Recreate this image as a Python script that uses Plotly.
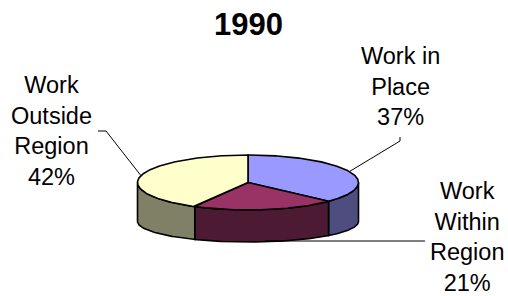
import numpy as np
import plotly.graph_objects as go

# ---- data ----
title_text = "1990"
labels = ["Work in<br>Place", "Work<br>Within<br>Region", "Work<br>Outside<br>Region"]
values = [37, 21, 42]
top_colors = ["#9999FF", "#993366", "#FFFFCC"]
side_colors = ["#4D4D80", "#4D1A33", "#808066"]

# ---- geometry (pixel space) ----
W, H = 508, 296
CX, CY_TOP, RX, RY_TOP = 248, 182.5, 110.5, 27.5
CY_BOT, RY_BOT = 221.5, 20.5
START_DEG = 90
# label centres and leader elbows
label_pos = [(400, 86), (467, 237), (51, 131)]
elbows = [[(400, 141), (400, 137)], [(425, 241)], [(106, 131), (98, 131)]]
anchor_on_bottom = [False, True, False]

fr = np.array(values, dtype=float) / sum(values)
cum = np.concatenate([[0], np.cumsum(fr)])
a_start = START_DEG - 360 * cum[:-1]
a_end = START_DEG - 360 * cum[1:]


def top_pt(t):
    r = np.radians(t)
    return CX + RX * np.cos(r), CY_TOP - RY_TOP * np.sin(r)


def bot_pt(t):
    r = np.radians(t)
    return CX + RX * np.cos(r), CY_BOT - RY_BOT * np.sin(r)


fig = go.Figure()
LINE = dict(color="black", width=1.6)

# walls (front half only)
for i in range(len(values)):
    for k in (0, -360):
        lo = max(a_end[i], -180 + k)
        hi = min(a_start[i], 0 + k)
        if lo < hi:
            ts = np.linspace(lo, hi, 80)
            xt, yt = top_pt(ts)
            xb, yb = bot_pt(ts[::-1])
            xs = np.concatenate([xt, xb, xt[:1]])
            ys = np.concatenate([yt, yb, yt[:1]])
            fig.add_trace(go.Scatter(x=xs, y=ys, mode="lines", fill="toself",
                                     fillcolor=side_colors[i], line=LINE,
                                     hoverinfo="skip", showlegend=False))

# top faces
for i in range(len(values)):
    ts = np.linspace(a_start[i], a_end[i], 200)
    xa, ya = top_pt(ts)
    xs = np.concatenate([[CX], xa, [CX]])
    ys = np.concatenate([[CY_TOP], ya, [CY_TOP]])
    fig.add_trace(go.Scatter(x=xs, y=ys, mode="lines", fill="toself",
                             fillcolor=top_colors[i], line=LINE,
                             hoverinfo="skip", showlegend=False))

# leader lines + labels
annotations = []
for i in range(len(values)):
    mid = (a_start[i] + a_end[i]) / 2
    px, py = (bot_pt(mid) if anchor_on_bottom[i] else top_pt(mid))
    pts = [(px, py)] + elbows[i]
    if anchor_on_bottom[i]:
        pts = [(px, elbows[i][0][1])] + elbows[i]
    fig.add_trace(go.Scatter(x=[p[0] for p in pts], y=[p[1] for p in pts],
                             mode="lines", line=dict(color="black", width=1),
                             hoverinfo="skip", showlegend=False))
    pct = round(fr[i] * 100)
    annotations.append(dict(x=label_pos[i][0], y=label_pos[i][1], xref="x", yref="y",
                            text=f"{labels[i]}<br>{pct}%", showarrow=False,
                            align="center", xanchor="center", yanchor="middle",
                            font=dict(family="Liberation Sans, Arial, sans-serif",
                                      size=23.5, color="black")))

annotations.append(dict(x=248, y=24, xref="x", yref="y", text=f"<b>{title_text}</b>",
                        showarrow=False, xanchor="center", yanchor="middle",
                        font=dict(family="Liberation Sans, Arial, sans-serif",
                                  size=31, color="black")))

fig.update_layout(
    width=W, height=H, autosize=False,
    margin=dict(l=0, r=0, t=0, b=0),
    paper_bgcolor="white", plot_bgcolor="white",
    xaxis=dict(range=[0, W], visible=False, fixedrange=True),
    yaxis=dict(range=[H, 0], visible=False, fixedrange=True),
    annotations=annotations,
)

fig.write_html("out.html", config={"displayModeBar": False})

# remove the default page margin so the figure sits at the window's corner
with open("out.html", encoding="utf-8") as f:
    html = f.read()
html = html.replace("<head>", "<head><style>html,body{margin:0;padding:0;overflow:hidden;}</style>", 1)
with open("out.html", "w", encoding="utf-8") as f:
    f.write(html)
